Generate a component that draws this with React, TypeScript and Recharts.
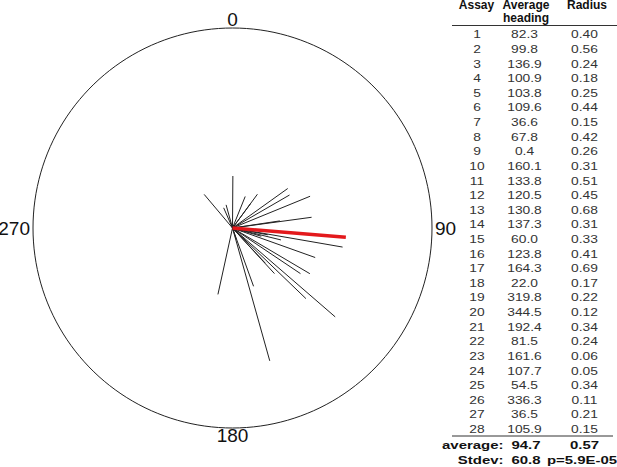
import { ScatterChart, Scatter, XAxis, YAxis, ReferenceDot } from 'recharts';

const assays = [1, 2, 3, 4, 5, 6, 7, 8, 9, 10, 11, 12, 13, 14, 15, 16, 17, 18, 19, 20, 21, 22, 23, 24, 25, 26, 27, 28];
const headings = [82.3, 99.8, 136.9, 100.9, 103.8, 109.6, 36.6, 67.8, 0.4, 160.1, 133.8, 120.5, 130.8, 137.3, 60.0, 123.8, 164.3, 22.0, 319.8, 344.5, 192.4, 81.5, 161.6, 107.7, 54.5, 336.3, 36.5, 105.9];
const radii = [0.40, 0.56, 0.24, 0.18, 0.25, 0.44, 0.15, 0.42, 0.26, 0.31, 0.51, 0.45, 0.68, 0.31, 0.33, 0.41, 0.69, 0.17, 0.22, 0.12, 0.34, 0.24, 0.06, 0.05, 0.34, 0.11, 0.21, 0.15];
const avgHeading = 94.7;
const avgRadius = 0.57;
const stdevHeading = 60.8;
const pValue = 'p=5.9E-05';
const compassLabels = ['0', '90', '180', '270'];

const FONT = '"Liberation Sans", Arial, sans-serif';

// heading 0 = up, clockwise
const toXY = (deg: number, r: number) => ({
  x: r * Math.sin((deg * Math.PI) / 180),
  y: r * Math.cos((deg * Math.PI) / 180),
});

const vectors = headings.map((h, i) => [{ x: 0, y: 0 }, toXY(h, radii[i])]);
const meanVector = [{ x: 0, y: 0 }, toXY(avgHeading, avgRadius)];
const ring = Array.from({ length: 181 }, (_, i) => toXY(i * 2, 1));

const noDot = () => <g />;

const labelPos: Record<string, { x: number; y: number; position: 'top' | 'right' | 'bottom' | 'left'; offset: number }> = {
  '0': { x: 0, y: 1, position: 'top', offset: 1 },
  '90': { x: 1, y: 0, position: 'right', offset: 2 },
  '180': { x: 0, y: -1, position: 'bottom', offset: 0 },
  '270': { x: -1, y: 0, position: 'left', offset: 2 },
};

// the table text in the original is stretched sideways
function T({ x, y, sx = 1, anchor = 'middle', children }: { x: number; y: number; sx?: number; anchor?: string; children: any }) {
  return (
    <text transform={`translate(${x},${y}) scale(${sx},1)`} textAnchor={anchor}>
      {children}
    </text>
  );
}

function Table() {
  const rowY = (i: number) => 38.3 + i * 14.62;
  return (
    <svg width={617} height={467} style={{ position: 'absolute', left: 0, top: 0, fontFamily: FONT }}>
      <g fontSize={12} fontWeight="bold" fill="#111">
        <T x={476.5} y={8.5}>Assay</T>
        <T x={526} y={8.5}>Average</T>
        <T x={526} y={22}>heading</T>
        <T x={587} y={8.5}>Radius</T>
      </g>
      <line x1={452} x2={617} y1={25.5} y2={25.5} stroke="#333" strokeWidth={1} />
      <g fontSize={11.5} fill="#333">
        {assays.map((a, i) => (
          <g key={a}>
            <T x={477} y={rowY(i)} sx={1.2}>{a}</T>
            <T x={524.5} y={rowY(i)} sx={1.2}>{headings[i].toFixed(1)}</T>
            <T x={584.5} y={rowY(i)} sx={1.2}>{radii[i].toFixed(2)}</T>
          </g>
        ))}
      </g>
      <line x1={452} x2={613} y1={436} y2={436} stroke="#333" strokeWidth={1} />
      <g fontSize={11.5} fontWeight="bold" fill="#111">
        <T x={503.5} y={449} sx={1.3} anchor="end">average:</T>
        <T x={526} y={449} sx={1.3}>{avgHeading.toFixed(1)}</T>
        <T x={584.5} y={449} sx={1.3}>{avgRadius.toFixed(2)}</T>
        <T x={503.5} y={464} sx={1.3} anchor="end">Stdev:</T>
        <T x={526} y={464} sx={1.3}>{stdevHeading.toFixed(1)}</T>
        <T x={582} y={464} sx={1.3}>{pValue}</T>
      </g>
    </svg>
  );
}

export default function App() {
  return (
    <div style={{ position: 'absolute', left: 0, top: 0, width: 617, height: 467, background: '#fff', overflow: 'hidden' }}>
      <ScatterChart width={617} height={467} margin={{ top: 28, right: 185, bottom: 39, left: 33 }}>
        <XAxis type="number" dataKey="x" domain={[-1, 1]} hide />
        <YAxis type="number" dataKey="y" domain={[-1, 1]} hide />
        <Scatter data={ring} line={{ stroke: '#222', strokeWidth: 1 }} stroke="#222" fill="none" shape={noDot} isAnimationActive={false} />
        {vectors.map((v, i) => (
          <Scatter key={i} data={v} line={{ stroke: '#222', strokeWidth: 1 }} stroke="#222" fill="none" shape={noDot} isAnimationActive={false} />
        ))}
        <Scatter data={meanVector} line={{ stroke: '#e3191c', strokeWidth: 3.5 }} stroke="#e3191c" fill="none" shape={noDot} isAnimationActive={false} />
        {compassLabels.map((l) => {
          const p = labelPos[l];
          return (
            <ReferenceDot
              key={l}
              x={p.x}
              y={p.y}
              r={1}
              fill="none"
              stroke="none"
              label={{ value: l, position: p.position, offset: p.offset, fontSize: 19, fill: '#111', fontFamily: FONT }}
            />
          );
        })}
      </ScatterChart>
      <Table />
    </div>
  );
}
